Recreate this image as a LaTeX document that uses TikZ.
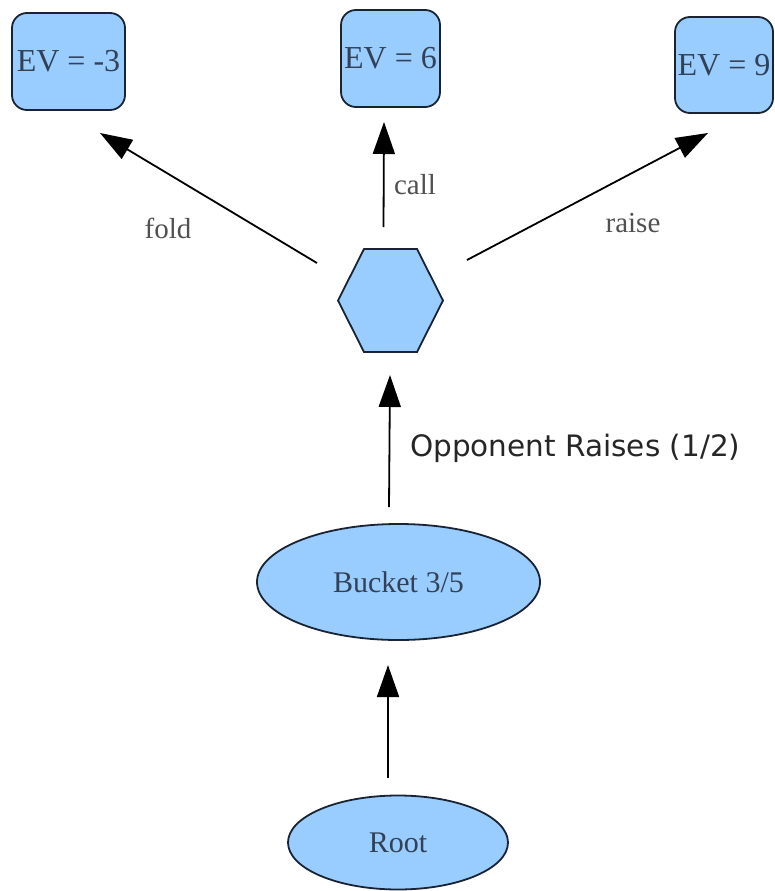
\documentclass[tikz,border=0pt]{standalone}
\usepackage{fontspec}
\setmainfont{Liberation Serif}
\newfontfamily\labelsans{DejaVu Sans}
\usetikzlibrary{shapes.geometric,arrows.meta}
\definecolor{nodefill}{RGB}{153,204,255}
\definecolor{nodeline}{RGB}{25,35,50}
\definecolor{nodetext}{RGB}{50,65,85}
\definecolor{edgetext}{RGB}{80,80,80}
\tikzset{
  evbox/.style={draw=nodeline, fill=nodefill, line width=1.8pt, rounded corners=15pt,
    inner sep=0pt, minimum height=97pt, text=nodetext,
    font=\fontsize{32}{36}\selectfont},
  ell/.style={draw=nodeline, fill=nodefill, line width=1.8pt, ellipse, inner sep=0pt,
    text=nodetext, font=\fontsize{30}{36}\selectfont},
  hexshape/.style={draw=nodeline, fill=nodefill, line width=1.8pt, line join=miter},
  arr/.style={line width=1.8pt, draw=black, -{Triangle[length=32pt,width=22pt]}},
  elabel/.style={text=edgetext, font=\fontsize{29}{34}\selectfont, inner sep=0pt},
  slabel/.style={text=black!85, font=\labelsans\fontsize{29.5}{34}\selectfont, inner sep=0pt, anchor=west}
}
\begin{document}
\begin{tikzpicture}[x=1pt, y=-1pt]
\useasboundingbox (0,0) rectangle (775,891);
% nodes
\node[evbox, minimum width=113pt] (ev1) at (68.5,61.5) {EV = -3};
\node[evbox, minimum width=99pt] (ev2) at (390.5,58.5) {EV = 6};
\node[evbox, minimum width=98pt, minimum height=96pt] (ev3) at (724,65) {EV = 9};
\coordinate (hex) at (390.5,300.5);
\draw[hexshape] (338,300.5) -- (364,249) -- (417,249) -- (443,300.5) -- (417,352) -- (364,352) -- cycle;
\node[ell, minimum width=283pt, minimum height=116pt] (bucket) at (398.5,582) {Bucket 3/5};
\node[ell, minimum width=220pt, minimum height=94pt] (root) at (398,842.5) {Root};
% connector ends
\coordinate (foldS) at (317,263);
\coordinate (foldE) at (100,133);
\coordinate (callS) at (383.5,227);
\coordinate (callE) at (384,122);
\coordinate (raiseS) at (467,260);
\coordinate (raiseE) at (708,133);
\coordinate (oppS) at (389,507);
\coordinate (oppE) at (390,375);
\coordinate (rootS) at (388,778);
\coordinate (rootE) at (388,665);
% connectors
\draw[arr] (foldS) -- (foldE);
\draw[arr] (callS) -- (callE);
\draw[arr] (raiseS) -- (raiseE);
\draw[arr] (oppS) -- (oppE);
\draw[arr] (rootS) -- (rootE);
% labels
\node[elabel] (lfold) at (168,228) {fold};
\node[elabel] (lcall) at (415,185) {call};
\node[elabel] (lraise) at (633,223) {raise};
\node[slabel] (lopp) at (410,448) {Opponent Raises (1/2)};
\end{tikzpicture}
\end{document}
